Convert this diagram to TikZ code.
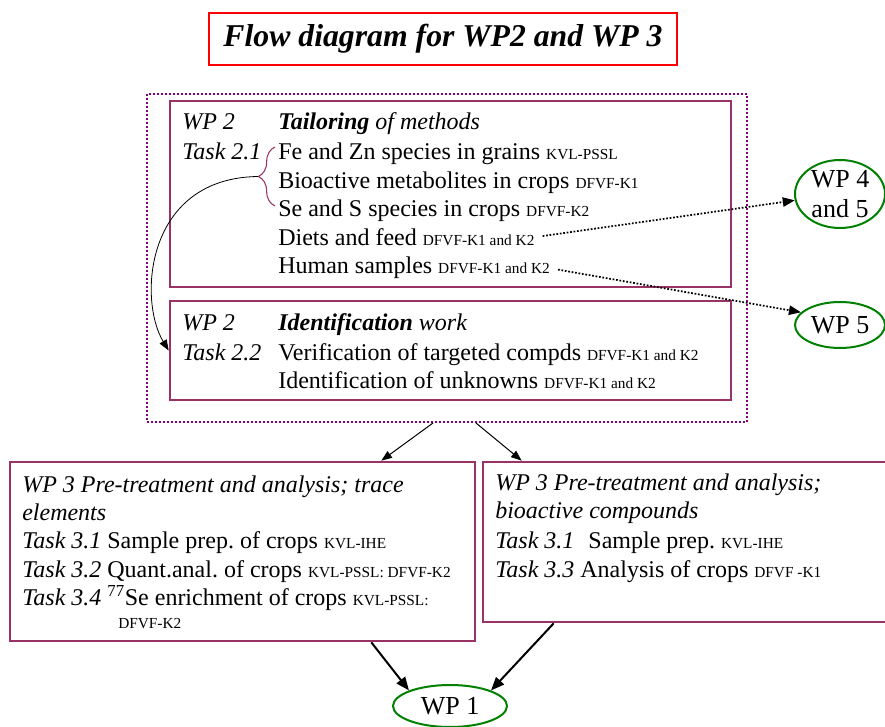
\documentclass[tikz,border=0pt]{standalone}
\usepackage{fontspec}
\setmainfont{Liberation Serif}
\usetikzlibrary{arrows.meta,calc,fit,decorations.pathreplacing,shapes.geometric}

\definecolor{plum}{RGB}{153,51,102}
\definecolor{wpgreen}{RGB}{0,128,0}
\definecolor{dotpurple}{RGB}{128,0,128}

% partner names in the smaller font
\newcommand{\grp}[1]{{\fontsize{11.5}{13}\selectfont #1}}
\frenchspacing

\begin{document}
\begin{tikzpicture}[x=0.75pt,y=-0.75pt,
    wpbox/.style={draw=plum,line width=2pt,inner sep=0pt},
    wpoval/.style={ellipse,draw=wpgreen,line width=1.5pt,inner sep=0pt,align=center,
                   font=\fontsize{19.5}{22}\selectfont},
    txt/.style={anchor=base west,inner sep=0pt,font=\fontsize{18}{21}\selectfont},
    flow/.style={-{Triangle[length=8pt,width=6pt]},line width=0.75pt},
    dotarrow/.style={-{Triangle[length=9pt,width=7pt]},line width=1.3pt,
                     dash pattern=on 1.3pt off 1.3pt,shorten <=6pt}
  ]
  \useasboundingbox (0,0) rectangle (885,727);

  % heading
  \node[draw=red,line width=1.7pt,minimum width=351pt,minimum height=39pt,
        font=\fontsize{23.8}{26}\selectfont\bfseries\itshape] (title) at (443,39)
        {Flow diagram for WP2 and WP 3};

  % WP 2 frame and boxes
  \node[draw=dotpurple,line width=1.5pt,dash pattern=on 1.5pt off 1.5pt,
        fit={(147,94) (747,422)},inner sep=0pt] (outer) {};
  \node[wpbox,fit={(170,101) (731,287)}] (tailor) {};
  \node[wpbox,fit={(170,301) (731,400)}] (ident) {};

  \node[txt] (wp2a) at (182,130) {\itshape WP 2};
  \node[txt] (tailhead) at (278,130) {\textbf{\textit{Tailoring}} \textit{of methods}};
  \node[txt] (task21) at (182,160) {\itshape Task 2.1};
  \foreach \what/\who [count=\k] in {
      Fe and Zn species in grains/KVL-PSSL,
      Bioactive metabolites in crops/DFVF-K1,
      Se and S species in crops/DFVF-K2,
      Diets and feed/DFVF-K1 and K2,
      Human samples/DFVF-K1 and K2}
    \node[txt] (tail\k) at (278,131.5+28.5*\k) {\what\ \grp{\who}};

  \draw[plum,line width=0.8pt,decorate,decoration={brace,amplitude=12.5pt}]
    (275,206) -- (275,147);
  \coordinate (bracetip) at (258,176.5);

  \node[txt] (wp2b) at (182,330) {\itshape WP 2};
  \node[txt] (identhead) at (278,330) {\textbf{\textit{Identification}} \textit{work}};
  \node[txt] (task22) at (182,360) {\itshape Task 2.2};
  \node[txt] (ident1) at (278,360) {Verification of targeted compds \grp{DFVF-K1 and K2}};
  \node[txt] (ident2) at (278,388) {Identification of unknowns \grp{DFVF-K1 and K2}};

  \draw[-{Triangle[length=8pt,width=6pt]},line width=0.6pt]
    (bracetip) .. controls (145,178) and (138,300) .. (ident.west);

  % other work packages
  \node[wpoval,minimum width=67.5pt,minimum height=51pt] (wp45) at (840,194) {WP 4\\and 5};
  \node[wpoval,minimum width=67.5pt,minimum height=34.5pt] (wp5) at (840,325) {WP 5};
  \node[wpoval,minimum width=85.5pt,minimum height=31.5pt] (wp1) at (450,706) {WP 1};

  \draw[dotarrow] (tail4.east) -- (wp45.188);
  \draw[dotarrow] (tail5.east) -- (wp5.162);

  % WP 3 boxes
  \node[wpbox,fit={(10,462) (475,641)}] (trace) {};
  \node[wpbox,fit={(483,462) (900,622)}] (bioact) {};

  \node[txt] (trace1) at (22,492) {\itshape WP 3 Pre-treatment and analysis; trace};
  \node[txt] (trace2) at (22,520) {\itshape elements};
  \node[txt] (trace3) at (22,548) {\textit{Task 3.1} Sample prep. of crops \grp{KVL-IHE}};
  \node[txt] (trace4) at (22,577) {\textit{Task 3.2} Quant.anal. of crops \grp{KVL-PSSL: DFVF-K2}};
  \node[txt] (trace5) at (22,605) {\textit{Task 3.4} \textsuperscript{77}Se enrichment of crops \grp{KVL-PSSL:}};
  \node[txt] (trace6) at (118,628) {\grp{DFVF-K2}};

  \node[txt] (bio1) at (495,490) {\itshape WP 3 Pre-treatment and analysis;};
  \node[txt] (bio2) at (495,518) {\itshape bioactive compounds};
  \node[txt] (bio3) at (495,548) {\textit{Task 3.1}\hspace{6pt} Sample prep. \grp{KVL-IHE}};
  \node[txt] (bio4) at (495,577) {\textit{Task 3.3} Analysis of crops \grp{DFVF -K1}};

  \draw[flow] ($(outer.south)+(-14,0)$) -- ($(trace.north east)+(-95,0)$);
  \draw[flow] ($(outer.south)+(29,0)$) -- ($(bioact.north west)+(40,0)$);
  \draw[flow,line width=1.5pt,-{Triangle[length=10pt,width=8pt]}]
    ($(trace.south east)+(-105,0)$) -- (wp1.north west);
  \draw[flow,line width=1.5pt,-{Triangle[length=10pt,width=8pt]}]
    ($(bioact.south west)+(72,0)$) -- (wp1.north east);
\end{tikzpicture}
\end{document}
